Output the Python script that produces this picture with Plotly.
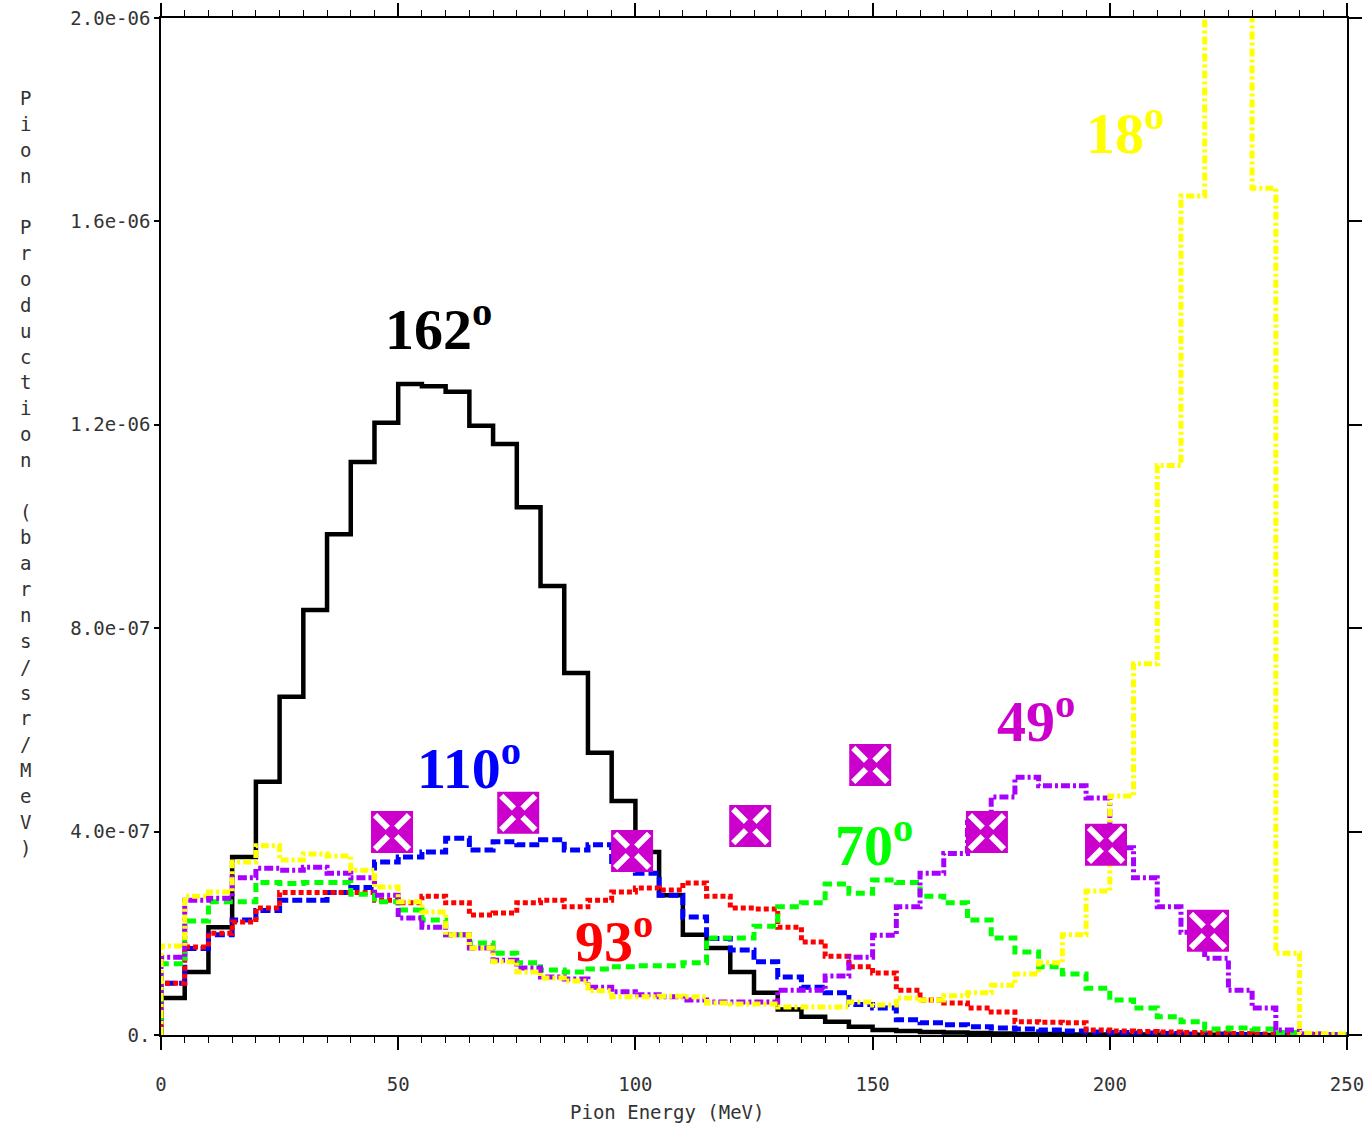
import plotly.graph_objects as go

SCALE = 1e-7
BIN_WIDTH = 5
N_BINS = 50
edges = [i * BIN_WIDTH for i in range(N_BINS + 1)]

# values in units of 1e-7 barns/sr/MeV, one per 5 MeV bin (0-250 MeV)
deg162 = [0.73, 1.24, 2.12, 3.5, 4.98, 6.65, 8.36, 9.85, 11.27, 12.04,
          12.8, 12.76, 12.65, 11.98, 11.62, 10.38, 8.83, 7.12, 5.55, 4.6,
          3.6, 2.75, 1.97, 1.71, 1.24, 0.83, 0.5, 0.36, 0.26, 0.16,
          0.1, 0.08, 0.06, 0.05, 0.04, 0.03, 0.02, 0.02, 0.01, 0.01,
          0.01, 0.01, 0.005, 0.005, 0.003, 0.002, 0.001, 0.001, 0.0, 0.0]
deg110 = [1.02, 1.7, 1.97, 2.26, 2.45, 2.65, 2.65, 2.8, 2.9, 3.4,
          3.5, 3.6, 3.87, 3.64, 3.8, 3.74, 3.84, 3.64, 3.74, 3.35,
          3.18, 2.75, 2.32, 1.9, 1.67, 1.44, 1.14, 0.94, 0.83, 0.6,
          0.53, 0.3, 0.24, 0.2, 0.16, 0.14, 0.12, 0.1, 0.08, 0.06,
          0.05, 0.04, 0.03, 0.02, 0.02, 0.01, 0.01, 0.005, 0.003, 0.002]
deg93 = [1.02, 1.73, 2.0, 2.22, 2.5, 2.8, 2.8, 2.8, 2.8, 2.65,
         2.6, 2.73, 2.6, 2.36, 2.4, 2.6, 2.65, 2.52, 2.65, 2.81,
         2.89, 2.85, 2.99, 2.73, 2.5, 2.48, 2.12, 1.83, 1.55, 1.34,
         1.22, 0.88, 0.69, 0.63, 0.53, 0.45, 0.26, 0.25, 0.24, 0.1,
         0.08, 0.07, 0.06, 0.05, 0.04, 0.03, 0.02, 0.01, 0.005, 0.003]
deg70 = [1.4, 2.24, 2.62, 2.62, 3.0, 2.98, 3.0, 3.0, 2.77, 2.62,
         2.46, 2.26, 1.97, 1.81, 1.61, 1.42, 1.28, 1.24, 1.3, 1.34,
         1.36, 1.36, 1.42, 1.91, 1.91, 2.14, 2.52, 2.6, 2.97, 2.79,
         3.05, 3.0, 2.73, 2.6, 2.26, 1.91, 1.63, 1.34, 1.2, 0.92,
         0.69, 0.53, 0.36, 0.26, 0.12, 0.14, 0.12, 0.05, 0.02, 0.01]
deg49 = [1.53, 2.65, 2.69, 3.09, 3.28, 3.24, 3.3, 3.18, 3.09, 2.75,
         2.3, 2.12, 1.97, 1.71, 1.47, 1.32, 1.14, 1.1, 0.94, 0.85,
         0.79, 0.75, 0.69, 0.65, 0.65, 0.65, 0.88, 0.88, 1.16, 1.53,
         1.96, 2.52, 3.18, 3.57, 4.18, 4.68, 5.07, 4.9, 4.9, 4.66,
         3.68, 3.09, 2.52, 2.02, 1.51, 0.88, 0.53, 0.1, 0.02, 0.01]
deg18 = [1.75, 2.73, 2.81, 3.4, 3.72, 3.44, 3.56, 3.52, 3.24, 2.91,
         2.62, 2.42, 1.97, 1.71, 1.44, 1.24, 1.12, 1.06, 0.87, 0.75,
         0.75, 0.76, 0.75, 0.63, 0.61, 0.61, 0.55, 0.55, 0.55, 0.65,
         0.59, 0.73, 0.69, 0.77, 0.83, 0.98, 1.2, 1.42, 1.97, 2.83,
         4.7, 7.3, 11.2, 16.5, 26.0, 28.0, 16.65, 1.61, 0.03, 0.02]

# experimental points (magenta crosses)
exp_x = [48.7, 75.3, 99.3, 124.2, 149.5, 174.1, 199.2, 220.7]
exp_y = [3.99, 4.37, 3.62, 4.11, 5.31, 3.99, 3.74, 2.05]

# curve labels
lab_text = ["162", "110", "93", "70", "49", "18"]
lab_x = [58.5, 64.9, 95.4, 150.3, 184.5, 203.2]
lab_y = [13.96, 5.31, 1.91, 3.8, 6.25, 17.8]
lab_color = ["#000000", "#0000FF", "#FF0000", "#00FF00", "#CC00CC", "#FFFF00"]

x_ticks = [0, 50, 100, 150, 200, 250]
y_tickvals = [0, 4, 8, 12, 16, 20]
y_ticktext = ["0.", "4.0e-07", "8.0e-07", "1.2e-06", "1.6e-06", "2.0e-06"]

series = [
    (deg162, "#000000", "solid", 4.5),
    (deg110, "#0000FF", "10px,4px", 5),
    (deg93, "#FF0000", "5px,3px", 5),
    (deg70, "#00FF00", "9px,5px", 5),
    (deg49, "#A800FF", "9px,3px,3px,3px", 5),
    (deg18, "#FFFF00", "8px,3px,3px,3px", 5),
]

fig = go.Figure()
for vals, col, dash, w in series:
    xs = [0] + edges
    ys = [0] + [v * SCALE for v in vals] + [vals[-1] * SCALE]
    fig.add_trace(go.Scatter(x=xs, y=ys, mode="lines",
                             line=dict(color=col, width=w, dash=dash, shape="hv"),
                             showlegend=False, hoverinfo="skip"))

ey = [v * SCALE for v in exp_y]
fig.add_trace(go.Scatter(x=exp_x, y=ey, mode="markers", showlegend=False,
                         marker=dict(symbol="square", size=42, color="#CC00CC",
                                     line=dict(width=0))))
fig.add_trace(go.Scatter(x=exp_x, y=ey, mode="markers", showlegend=False,
                         marker=dict(symbol="x-thin", size=34, color="#FFFFFF",
                                     line=dict(width=6, color="#FFFFFF"))))
fig.add_trace(go.Scatter(x=exp_x, y=ey, mode="markers", showlegend=False,
                         marker=dict(symbol="diamond", size=13, color="#CC00CC",
                                     line=dict(width=0))))

for t, x, y, c in zip(lab_text, lab_x, lab_y, lab_color):
    fig.add_annotation(x=x, y=y * SCALE, xref="x", yref="y",
                       text=f"<b>{t}<sup>o</sup></b>", showarrow=False,
                       font=dict(family="Liberation Serif", size=58, color=c),
                       xanchor="center", yanchor="middle")

# y-axis title, one character per line
ytitle = "Pion Production (barns/sr/MeV)"
PLOT_TOP, PLOT_BOTTOM, PLOT_LEFT, PLOT_RIGHT = 18, 1035, 161, 1347
for i, ch in enumerate(ytitle):
    if ch == " ":
        continue
    py = 98 + i * 25.85
    fig.add_annotation(x=(25 - PLOT_LEFT) / (PLOT_RIGHT - PLOT_LEFT),
                       y=(PLOT_BOTTOM - py) / (PLOT_BOTTOM - PLOT_TOP),
                       xref="paper", yref="paper", text=ch, showarrow=False,
                       font=dict(family="DejaVu Sans Mono", size=19, color="#333333"),
                       xanchor="center", yanchor="middle")

fig.add_annotation(x=(667 - PLOT_LEFT) / (PLOT_RIGHT - PLOT_LEFT),
                   y=(PLOT_BOTTOM - 1112) / (PLOT_BOTTOM - PLOT_TOP),
                   xref="paper", yref="paper", text="Pion Energy (MeV)",
                   showarrow=False,
                   font=dict(family="DejaVu Sans Mono", size=19, color="#333333"),
                   xanchor="center", yanchor="middle")

fig.update_layout(
    width=1368, height=1127,
    margin=dict(l=161, r=21, t=18, b=92, autoexpand=False),
    plot_bgcolor="white", paper_bgcolor="white",
    xaxis=dict(range=[0, 250], tickvals=x_ticks, ticks="outside", ticklen=13,
               tickwidth=1.5, tickcolor="#000", showline=True, linecolor="#000",
               linewidth=1.5, mirror="ticks", showgrid=False, zeroline=False,
               ticklabelstandoff=18, automargin=False,
               minor=dict(dtick=5, ticks="outside", ticklen=6, tickcolor="#000",
                          tickwidth=1.2, showgrid=False),
               tickfont=dict(family="DejaVu Sans Mono", size=19, color="#333333")),
    yaxis=dict(range=[0, 2e-6], tickvals=[v * SCALE for v in y_tickvals],
               ticktext=y_ticktext, ticks="outside", ticklen=5, tickwidth=1.5,
               tickcolor="#000", showline=True, linecolor="#000", linewidth=1.5,
               mirror=False, showgrid=False, zeroline=False, ticklabelstandoff=0,
               automargin=False,
               tickfont=dict(family="DejaVu Sans Mono", size=19, color="#333333")),
    yaxis2=dict(range=[0, 2e-6], overlaying="y", side="right",
                tickvals=[v * SCALE for v in y_tickvals], showticklabels=False,
                ticks="outside", ticklen=13, tickwidth=1.5, tickcolor="#000",
                showline=True, linecolor="#000", linewidth=1.5, automargin=False,
                showgrid=False, zeroline=False),
)
fig.add_trace(go.Scatter(x=[None], y=[None], yaxis="y2", showlegend=False))

fig.write_html("out.html")
